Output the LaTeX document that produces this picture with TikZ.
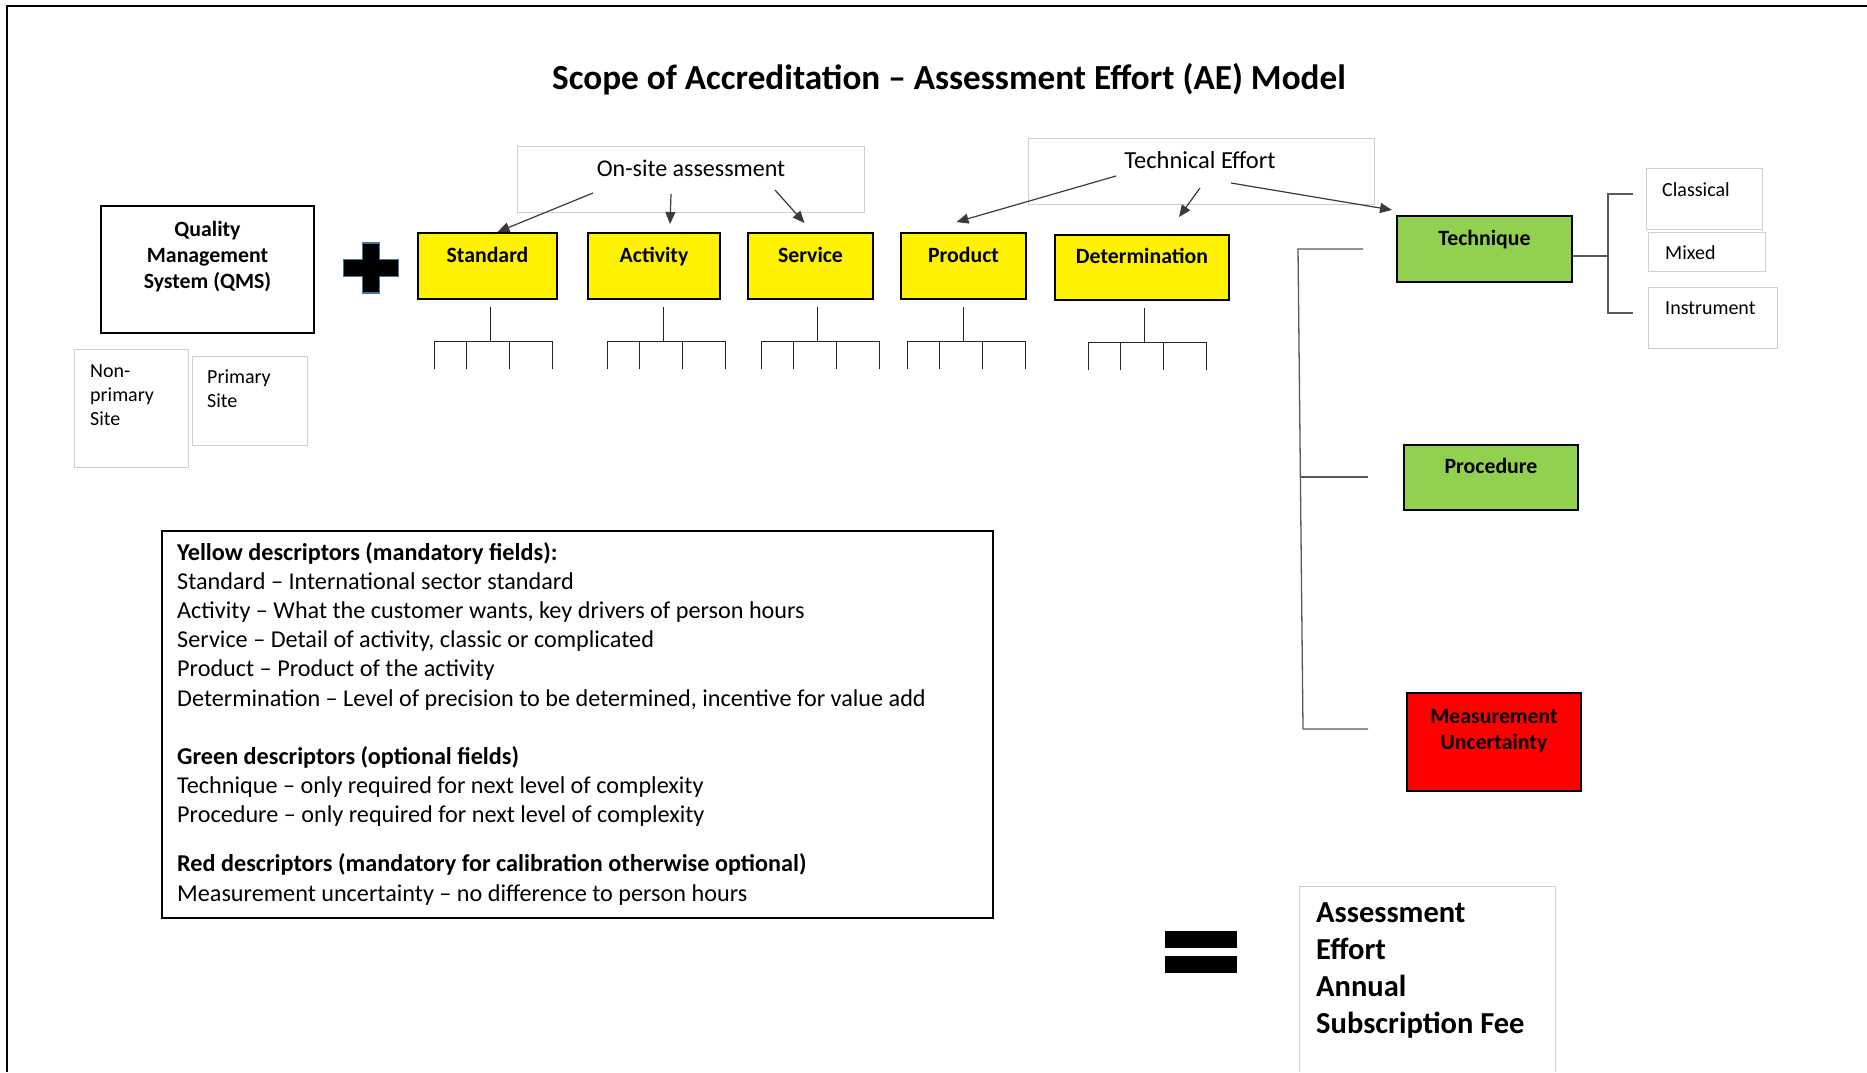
\documentclass[tikz,border=0pt]{standalone}
\usepackage{fontspec}
\setmainfont{Carlito}
\usetikzlibrary{arrows.meta}

\definecolor{descgreen}{HTML}{92D050}
\definecolor{softgray}{HTML}{CFCFCF}
\definecolor{linkgray}{HTML}{3A3A3A}
\definecolor{plusblue}{HTML}{4A72A0}

\begin{document}
\begin{tikzpicture}[x=1pt,y=-1pt,>={Triangle[length=12pt,width=10pt]}]
    \tikzstyle{every node}=[inner sep=0pt]
    \tikzstyle{filled box}=[draw=black,line width=2pt]
    \tikzstyle{yellow box}=[filled box,fill=yellow,minimum height=66pt]
    \tikzstyle{green box}=[filled box,fill=descgreen]
    \tikzstyle{red box}=[filled box,fill=red]
    \tikzstyle{soft box}=[draw=softgray,line width=1pt]
    \tikzstyle{head text}=[font=\fontsize{21.8}{26}\selectfont\bfseries]
    \tikzstyle{plain text}=[font=\fontsize{20}{24}\selectfont]
    \tikzstyle{link}=[->,draw=linkgray,line width=1.2pt]
    \tikzstyle{stub line}=[draw=black!85,line width=1pt]
    \tikzstyle{bracket}=[draw=black!65,line width=1.3pt]

    \useasboundingbox (0,0) rectangle (1867,1072);
    \draw[line width=1.5pt] (7,1072) -- (7,6) -- (1867,6);

    \node[font=\fontsize{35.2}{42}\selectfont\bfseries, anchor=mid] (title) at (949,87.5)
        {Scope of Accreditation – Assessment Effort (AE) Model};

    % QMS and sites
    \node[filled box, line width=2.5pt, minimum width=213pt, minimum height=127pt] (qms) at (207.5,269.5) {};
    \node[head text, align=center, anchor=north] (qms-t) at (207.5,221) {Quality\\Management\\System (QMS)};

    \filldraw[fill=black, draw=plusblue, line width=1.5pt]
        (362.5,243) -- (379.5,243) -- (379.5,259.5) -- (398.5,259.5) -- (398.5,276.5) -- (379.5,276.5)
        -- (379.5,293) -- (362.5,293) -- (362.5,276.5) -- (343.5,276.5) -- (343.5,259.5) -- (362.5,259.5) -- cycle;

    \node[soft box, minimum width=114pt, minimum height=118pt] (np) at (131,408) {};
    \node[plain text, align=left, anchor=north west] (np-t) at (90,364.5) {Non-\\primary\\Site};
    \node[soft box, minimum width=115pt, minimum height=89pt] (ps) at (249.5,400.5) {};
    \node[plain text, align=left, anchor=north west] (ps-t) at (207,369.5) {Primary\\Site};

    % effort labels
    \node[soft box, minimum width=347pt, minimum height=66pt] (os) at (690.5,179) {};
    \node[font=\fontsize{24}{28}\selectfont, anchor=mid] (os-t) at (691,174.5) {On-site assessment};
    \node[soft box, minimum width=346pt, minimum height=66pt] (te) at (1201,171) {};
    \node[font=\fontsize{24.5}{28}\selectfont, anchor=mid] (te-t) at (1200,166.5) {Technical Effort};

    % yellow descriptors
    \foreach \n/\x/\w/\t in {std/487.5/139/Standard, act/654/132/Activity, srv/810.5/125/Service, prd/963.5/125/Product}
    {
        \node[yellow box, minimum width=\w pt] (\n) at (\x,266) {};
        \node[head text, anchor=mid] (\n-t) at ([yshift=-28.5pt]\n.north) {\t};
    }
    \node[yellow box, minimum width=174pt, minimum height=65pt] (det) at (1142,267.5) {};
    \node[head text, anchor=mid] (det-t) at ([yshift=-27.5pt]det.north) {Determination};

    \foreach \n/\dx in {std/3, act/9, srv/7, prd/0, det/2}
    {
        \draw[stub line] ([xshift=\dx pt, yshift=-7pt]\n.south) -- ++(0,34) coordinate (\n-j);
        \draw[stub line] ([xshift=-56pt]\n-j) -- ([xshift=62pt]\n-j);
        \foreach \k in {-56,-24,19,62}
            \draw[stub line] ([xshift=\k pt]\n-j) -- ++(0,28);
    }

    % green and red descriptors
    \node[green box, minimum width=175pt, minimum height=66pt] (tech) at (1484.5,249) {};
    \node[head text, anchor=mid] (tech-t) at ([yshift=-28pt]tech.north) {Technique};
    \node[green box, minimum width=174pt, minimum height=65pt] (proc) at (1491,477.5) {};
    \node[head text, anchor=mid] (proc-t) at ([yshift=-27pt]proc.north) {Procedure};
    \node[red box, minimum width=174pt, minimum height=98pt] (mu) at (1494,742) {};
    \node[head text, align=center, anchor=north] (mu-t) at ([yshift=-17.5pt]mu.north) {Measurement\\Uncertainty};

    % Incoming Links
    \coordinate (os-a) at (593,193);
    \coordinate (os-b) at (671,194);
    \coordinate (os-c) at (775,190);
    \coordinate (te-a) at (1116,176);
    \coordinate (te-b) at (1200,188);
    \coordinate (te-c) at (1231,183);
    \draw[link] (os-a) -- ([xshift=10pt]std.north);
    \draw[link] (os-b) -- ([xshift=16pt,yshift=8pt]act.north);
    \draw[link] (os-c) -- ([xshift=-6pt,yshift=9pt]srv.north);
    \draw[link] (te-a) -- ([xshift=-7pt,yshift=10pt]prd.north);
    \draw[link] (te-b) -- ([xshift=37pt,yshift=17pt]det.north);
    \draw[link] (te-c) -- ([xshift=-4pt,yshift=5pt]tech.north west);

    % brackets
    \draw[bracket] (1363,249) -- (1298,249) -- (1303,729) -- (1368,729);
    \draw[bracket] (1301,477) -- (1368,477);
    \draw[bracket] ([yshift=-7pt]tech.east) -- (1607,256);
    \draw[bracket] (1633,194) -- (1608,194) -- (1608,313) -- (1633,313);

    \node[soft box, minimum width=116pt, minimum height=61pt] (cls) at (1704,198.5) {};
    \node[plain text, anchor=mid west] (cls-t) at (1662,194) {Classical};
    \node[soft box, minimum width=117pt, minimum height=39pt] (mix) at (1706.5,251.5) {};
    \node[plain text, anchor=mid west] (mix-t) at (1665,257) {Mixed};
    \node[soft box, minimum width=129pt, minimum height=61pt] (ins) at (1712.5,317.5) {};
    \node[plain text, anchor=mid west] (ins-t) at (1665,312) {Instrument};

    % key
    \node[draw=black, line width=1.2pt, minimum width=831pt, minimum height=387pt] (key) at (577.5,724.5) {};
    \node[font=\fontsize{24.2}{29.2}\selectfont, anchor=north west, align=left] (key-t) at (177,542)
        {\textbf{Yellow descriptors (mandatory fields):}\\
         Standard – International sector standard\\
         Activity – What the customer wants, key drivers of person hours\\
         Service – Detail of activity, classic or complicated\\
         Product – Product of the activity\\
         Determination – Level of precision to be determined, incentive for value add\\[29pt]
         \textbf{Green descriptors (optional fields)}\\
         Technique – only required for next level of complexity\\
         Procedure – only required for next level of complexity\\[20pt]
         \textbf{Red descriptors (mandatory for calibration otherwise optional)}\\
         Measurement uncertainty – no difference to person hours};

    % result
    \fill (1165,931) rectangle (1237,948);
    \fill (1165,956) rectangle (1237,973);
    \draw[soft box] (1299,1072) -- (1299,886) -- (1555,886) -- (1555,1072);
    \node[font=\fontsize{30.5}{37}\selectfont\bfseries, anchor=north west, align=left] (ae-t) at (1316,903)
        {Assessment\\Effort\\Annual\\Subscription Fee};
\end{tikzpicture}
\end{document}
